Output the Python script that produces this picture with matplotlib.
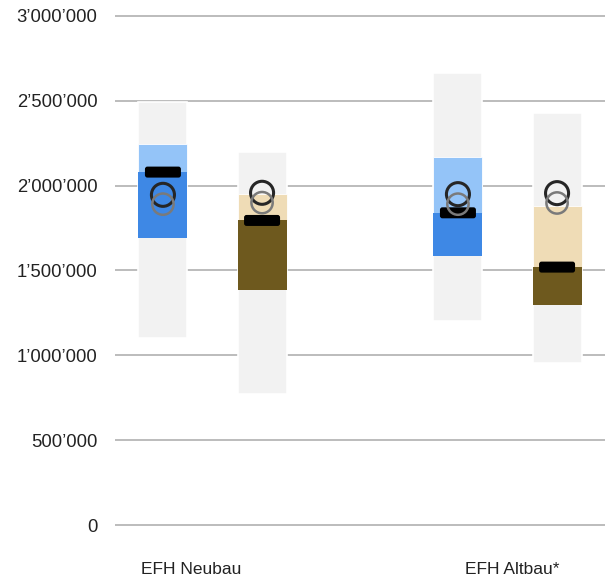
#!/usr/bin/env python3
"""Kostenbandbreiten EFH Neubau / Altbau (Range, Quartile, Median, Referenzwerte)."""

import numpy as np
import matplotlib.pyplot as plt
from matplotlib.patches import FancyBboxPatch
from matplotlib.ticker import FuncFormatter

plt.rcParams['font.family'] = ['Liberation Sans', 'DejaVu Sans']

categories = ['EFH Neubau', 'EFH Altbau*']
# two bars per category: left (blue), right (brown)
range_low = [1100000, 770000, 1200000, 955000]
range_high = [2495000, 2200000, 2665000, 2430000]
box_low = [1690000, 1385000, 1585000, 1298000]
median = [2080000, 1795000, 1840000, 1520000]
box_high = [2245000, 1952000, 2168000, 1880000]
ref_dark = [1946000, 1958000, 1950000, 1956000]
ref_gray = [1891000, 1900000, 1891000, 1898000]
y_ticks = [0, 500000, 1000000, 1500000, 2000000, 2500000, 3000000]

light_cols = ['#94c4f8', '#efdcb6', '#94c4f8', '#efdcb6']
dark_cols = ['#3e88e5', '#6e591e', '#3e88e5', '#6e591e']

W, H = 606, 578
fig = plt.figure(figsize=(W / 100, H / 100), dpi=100)
ax_l, ax_r = 115, 605
ax_top, ax_bot = 10.06, 530.94
ax = fig.add_axes([ax_l / W, (H - ax_bot) / H, (ax_r - ax_l) / W, (ax_bot - ax_top) / H])

group_x = np.arange(len(categories))
offset = 0.168
bw = 0.166
xs = np.array([[g - offset, g + offset] for g in group_x]).ravel()

ax.set_xlim(-0.3305, 1.3305)
ax.set_ylim(-35000, 3035000)

for y in y_ticks:
    ax.axhline(y, color='#b0b0b0', lw=1.2, zorder=0)

ax.bar(xs, np.array(range_high) - np.array(range_low), bottom=range_low, width=bw,
       color='#f2f2f2', edgecolor='white', linewidth=1.2, zorder=1)
ax.bar(xs, np.array(box_high) - np.array(median), bottom=median, width=bw,
       color=light_cols, edgecolor='white', linewidth=0.6, zorder=2)
ax.bar(xs, np.array(median) - np.array(box_low), bottom=box_low, width=bw,
       color=dark_cols, edgecolor='none', zorder=2)

# median markers as small rounded black boxes (size in pixels)
px_x = 1.661 / (ax_r - ax_l)            # data x per pixel
px_y = 3070000 / (ax_bot - ax_top)      # data y per pixel
mw, mh = 36 * px_x, 11 * px_y
for x, m in zip(xs, median):
    ax.add_patch(FancyBboxPatch((x - mw / 2, m - mh / 2), mw, mh,
                                boxstyle=f"round,pad=0,rounding_size={2.5 * px_x}",
                                mutation_aspect=px_y / px_x,
                                facecolor='black', edgecolor='none', zorder=3))

ax.scatter(xs, ref_dark, s=275, facecolors='none', edgecolors='#262626', linewidths=2.2, zorder=4)
ax.scatter(xs, ref_gray, s=235, facecolors='none', edgecolors='#7a7a7a', linewidths=1.8, zorder=5)

ax.set_yticks(y_ticks)
ax.yaxis.set_major_formatter(FuncFormatter(lambda v, p: f"{int(v):,}".replace(',', '\u2019')))
ax.tick_params(axis='y', length=0, pad=12.7, labelsize=13.3, labelcolor='#222222')
ax.set_xticks([])

label_shift = [-0.073, 0.015]
for g, lab, s in zip(group_x, categories, label_shift):
    ax.text(g + s, -262000, lab, ha='center', va='center', fontsize=12.5, color='#222222',
            clip_on=False)

for sp in ax.spines.values():
    sp.set_visible(False)

plt.savefig('out.png', dpi=100)
plt.close()
